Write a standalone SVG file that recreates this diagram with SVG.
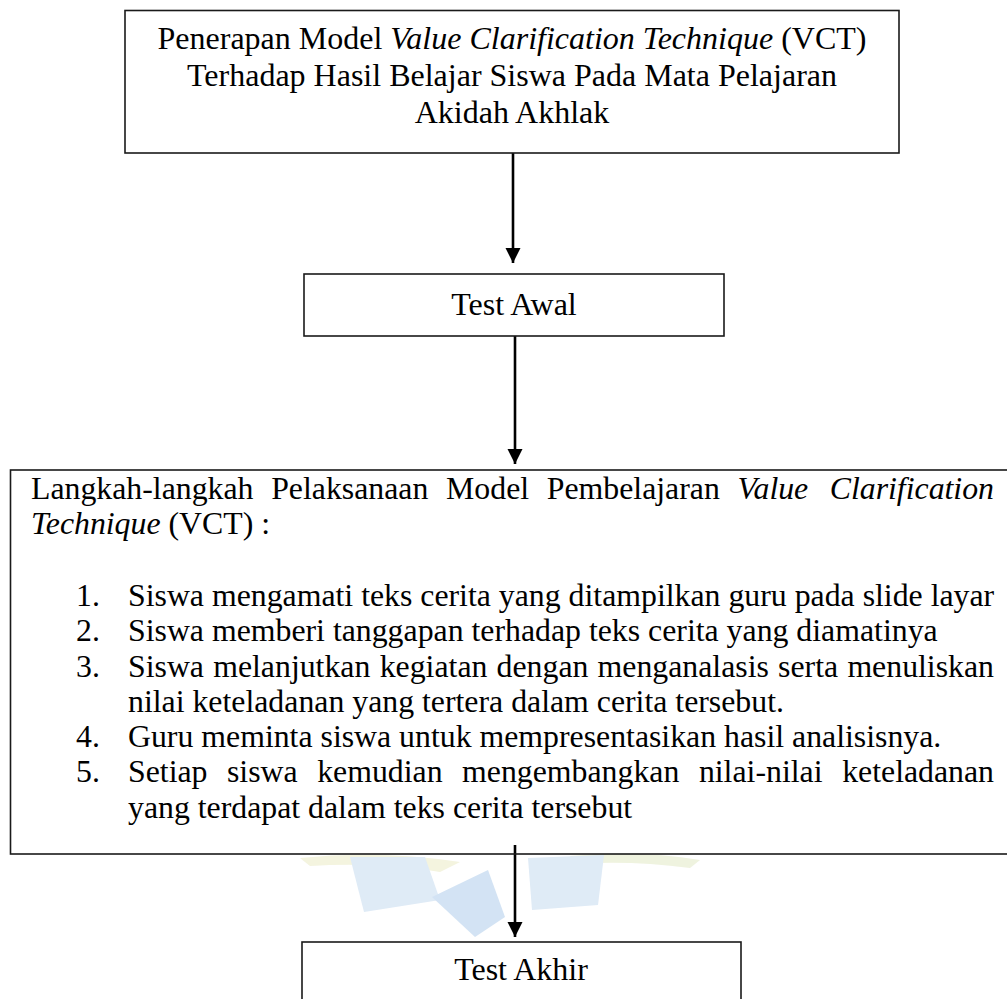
<svg xmlns="http://www.w3.org/2000/svg" width="1007" height="999" viewBox="0 0 1007 999">
<style>
  .box { fill: none; stroke: #1a1a1a; stroke-width: 1.6; }
  .t { font-family: "Liberation Serif", "Times New Roman", serif; font-size: 32px; fill: #000; }
  .s { font-size: 31.8px; }
  .c { text-anchor: middle; }
  .i { font-style: italic; }
  .e { text-anchor: end; }
  .conn { stroke: #000; stroke-width: 2.6; fill: none; marker-end: url(#arrow); }
</style>
<defs>
  <marker id="arrow" markerUnits="userSpaceOnUse" markerWidth="16" markerHeight="16" refX="15" refY="7.5" orient="auto">
    <path d="M0,0 L15,7.5 L0,15 z" fill="#000"/>
  </marker>
</defs>
<rect width="1007" height="999" fill="#fff"/>

<g id="watermark" opacity="0.9">
  <path d="M300,858 Q380,850 460,862 L440,872 Q380,862 310,866 z" fill="#f3f3dc"/>
  <path d="M570,856 Q640,850 700,860 L690,868 Q630,860 575,864 z" fill="#eef2dc"/>
  <polygon points="350,857 425,857 440,900 364,912" fill="#dce9f6"/>
  <polygon points="432,897 488,870 505,917 475,937" fill="#cfe1f3"/>
  <polygon points="528,858 604,855 598,905 532,910" fill="#dce9f6"/>
</g>

<g id="connectors">
  <line class="conn" x1="513" y1="153" x2="513" y2="263"/>
  <line class="conn" x1="515" y1="336" x2="515" y2="464"/>
  <line class="conn" x1="515" y1="845" x2="515" y2="937"/>
</g>

<g id="node-title">
  <rect class="box" x="125" y="10.5" width="774" height="142.5"/>
  <text class="t c" x="512" y="49">Penerapan Model <tspan class="i">Value Clarification Technique</tspan> (VCT)</text>
  <text class="t c" x="512" y="86">Terhadap Hasil Belajar Siswa Pada Mata Pelajaran</text>
  <text class="t c" x="512" y="123">Akidah Akhlak</text>
</g>

<g id="node-test-awal">
  <rect class="box" x="304" y="274" width="420" height="62"/>
  <text class="t c" x="514" y="315">Test Awal</text>
</g>

<g id="node-langkah">
  <rect class="box" x="10.5" y="470" width="1010" height="384"/>
  <text class="t s" y="499"><tspan x="31">Langkah-langkah</tspan><tspan x="271.2">Pelaksanaan</tspan><tspan x="446.1">Model</tspan><tspan x="546.8">Pembelajaran</tspan><tspan x="737.6" class="i">Value</tspan></text>
  <text class="t s i e" x="994" y="499">Clarification</text>
  <text class="t s" x="31" y="534"><tspan class="i">Technique</tspan> (VCT) :</text>

  <text class="t s" x="76" y="606">1.</text>
  <text class="t s" x="128" y="606">Siswa mengamati teks cerita yang ditampilkan guru pada slide layar</text>
  <text class="t s" x="76" y="641">2.</text>
  <text class="t s" x="128" y="641">Siswa memberi tanggapan terhadap teks cerita yang diamatinya</text>
  <text class="t s" x="76" y="677">3.</text>
  <text class="t s" y="677"><tspan x="128">Siswa</tspan><tspan x="213.2">melanjutkan</tspan><tspan x="379.7">kegiatan</tspan><tspan x="496.6">dengan</tspan><tspan x="597.6">menganalasis</tspan><tspan x="778.1">serta</tspan></text>
  <text class="t s e" x="994" y="677">menuliskan</text>
  <text class="t s" x="128" y="712">nilai keteladanan yang tertera dalam cerita tersebut.</text>
  <text class="t s" x="76" y="747">4.</text>
  <text class="t s" x="128" y="747">Guru meminta siswa untuk mempresentasikan hasil analisisnya.</text>
  <text class="t s" x="76" y="782">5.</text>
  <text class="t s" y="782"><tspan x="128">Setiap</tspan><tspan x="227">siswa</tspan><tspan x="317.2">kemudian</tspan><tspan x="462.1">mengembangkan</tspan><tspan x="698.9">nilai-nilai</tspan></text>
  <text class="t s e" x="994" y="782">keteladanan</text>
  <text class="t s" x="128" y="818">yang terdapat dalam teks cerita tersebut</text>
</g>

<g id="node-test-akhir">
  <rect class="box" x="302" y="942" width="439" height="80"/>
  <text class="t c" x="521" y="980">Test Akhir</text>
</g>
</svg>
